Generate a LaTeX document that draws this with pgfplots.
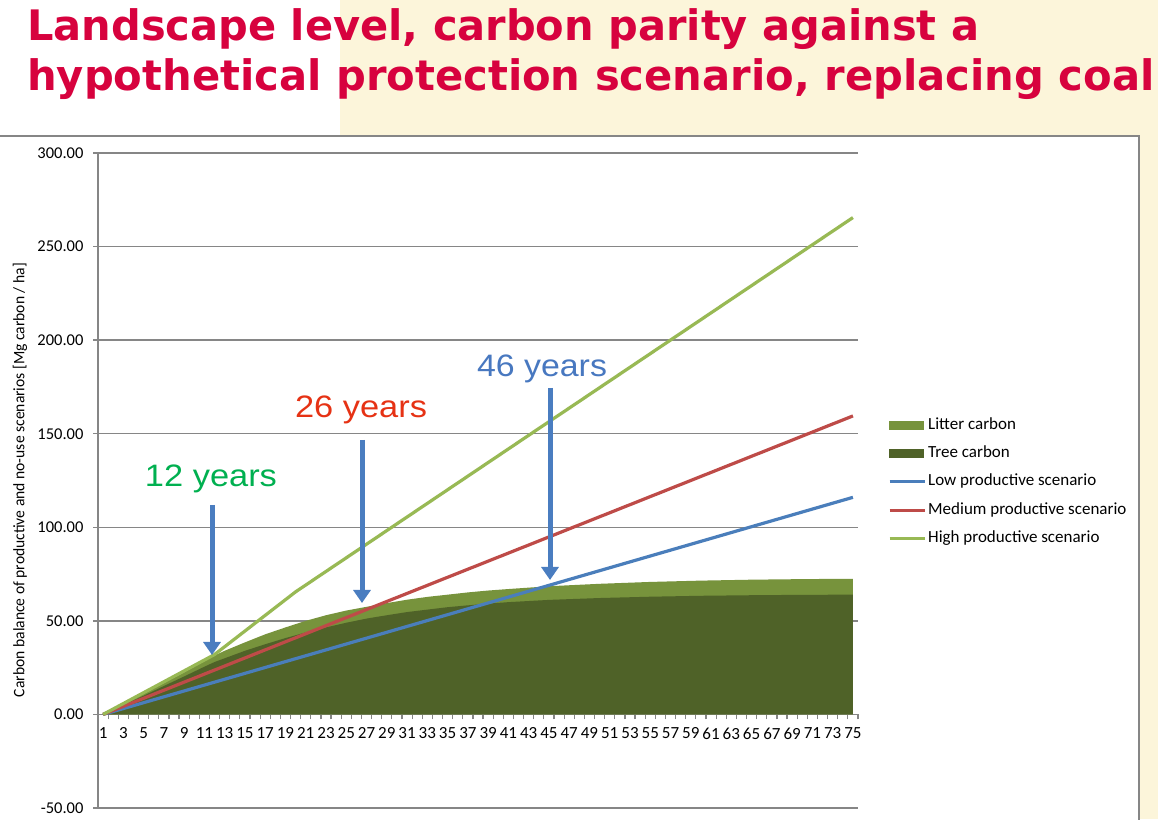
\documentclass[border=0pt]{standalone}
\usepackage{pgfplots}
\pgfplotsset{compat=1.18}
\usepackage{pgfplotstable}
\usepackage{fontspec}
\usetikzlibrary{arrows.meta}
\setmainfont{Carlito}
\newfontfamily\titlefont{DejaVu Sans}
\newfontfamily\arialfont{Liberation Sans}
\definecolor{titlered}{HTML}{D7023E}
\definecolor{bgyellow}{HTML}{FCF5DA}
\definecolor{gridgray}{HTML}{868686}
\definecolor{litter}{HTML}{77933C}
\definecolor{tree}{HTML}{4F6228}
\definecolor{lowc}{HTML}{4A7EBB}
\definecolor{medc}{HTML}{BE4B48}
\definecolor{highc}{HTML}{98B954}
\definecolor{arrowc}{HTML}{4A7DC0}
\definecolor{txtgreen}{HTML}{00B050}
\definecolor{txtred}{HTML}{E63214}
\definecolor{txtblue}{HTML}{4878C0}

\pgfplotstableread{
year tree litter
1 0 0
3 5 0.5
5 10 1
7 15.2 1.6
9 20.3 2.2
11 25.5 3
12 28 3.5
13 30 4
15 34 4.5
17 37.5 5.3
19 40.8 5.7
21 43.8 6.2
23 46.5 6.5
25 49 6.5
27 51.2 6.3
29 53 6.5
31 54.7 6.6
33 56 6.8
35 57.3 6.7
37 58.3 6.9
39 59.2 7
41 60 7
45 61.2 7.3
50 62.2 7.6
55 62.9 7.9
60 63.4 8.1
65 63.7 8.3
70 63.9 8.4
75 64 8.5
}\carbontable

\begin{document}
\begin{tikzpicture}[x=1pt,y=1pt]
\useasboundingbox (0,0) rectangle (1158,819);
% backgrounds
\fill[white] (0,0) rectangle (1158,819);
\fill[bgyellow] (340,683) rectangle (1158,819);
\fill[bgyellow] (1139,0) rectangle (1158,819);
\draw[gridgray, line width=2pt] (-5,-5) rectangle (1139,683);
% title
\node[anchor=base west, inner sep=0pt, text=titlered] at (27,778)
  {\resizebox{952pt}{\height}{\titlefont\bfseries\fontsize{42}{42}\selectfont Landscape level, carbon parity against a}};
\node[anchor=base west, inner sep=0pt, text=titlered] at (27,728)
  {\resizebox{1127pt}{\height}{\titlefont\bfseries\fontsize{42}{42}\selectfont hypothetical protection scenario, replacing coal}};

\begin{axis}[
  at={(98pt,11pt)}, anchor=south west,
  scale only axis, width=760pt, height=655pt,
  xmin=0.5, xmax=75.5, ymin=-50, ymax=300,
  axis x line=middle, axis y line=left,
  hide obscured x ticks=false, hide obscured y ticks=false,
  axis line style={-, gridgray, line width=1.5pt},
  tick align=outside,
  xtick={1,3,...,75},
  minor xtick={0.5,1.5,...,75.5},
  major x tick style={draw=none},
  minor x tick style={gridgray, line width=1.2pt},
  minor tick length=5pt,
  ytick={-50,0,50,...,300},
  major y tick style={gridgray, line width=1.5pt},
  major tick length=5pt,
  ymajorgrids,
  major grid style={gridgray, line width=1.5pt},
  yticklabel={\pgfmathprintnumber[fixed,fixed zerofill,precision=2]{\tick}},
  /pgf/number format/assume math mode=true,
  yticklabel style={font=\fontsize{16.5}{16.5}\selectfont, text=black, xshift=-6pt},
  xticklabel style={font=\fontsize{17}{17}\selectfont, text=black, yshift=-5pt},
  legend style={at={(1.0355,0.603)}, anchor=north west, draw=none, fill=none,
    font=\fontsize{17}{17}\selectfont, row sep=8.3pt,
    nodes={text height=12pt, text depth=4pt, inner sep=2pt}},
  legend cell align=left,
]
\addlegendimage{legend image code/.code={\fill[litter] (0pt,-4pt) rectangle (34pt,4pt);}}
\addlegendimage{legend image code/.code={\fill[tree] (0pt,-4pt) rectangle (34pt,4pt);}}
\addlegendimage{legend image code/.code={\draw[lowc, line width=3pt] (0pt,0pt) -- (35pt,0pt);}}
\addlegendimage{legend image code/.code={\draw[medc, line width=3pt] (0pt,0pt) -- (35pt,0pt);}}
\addlegendimage{legend image code/.code={\draw[highc, line width=3pt] (0pt,0pt) -- (35pt,0pt);}}
\legend{Litter carbon, Tree carbon, Low productive scenario, Medium productive scenario, High productive scenario}

% stacked areas: tree + litter (top), then tree
\addplot[forget plot, fill=litter, draw=none] table[x=year, y expr=\thisrow{tree}+\thisrow{litter}] {\carbontable} \closedcycle;
\addplot[forget plot, fill=tree, draw=none] table[x=year, y=tree] {\carbontable} \closedcycle;

\addplot[forget plot, lowc, line width=3.2pt] coordinates {(1,0) (75,116)};
\addplot[forget plot, medc, line width=3.2pt] coordinates {(1,0) (75,159.5)};
\addplot[forget plot, highc, line width=3.2pt] coordinates {(1,0) (12,32) (20,65.5) (75,265.5)};
\end{axis}

% y axis label
\node[rotate=90, inner sep=0pt] at (20,339)
  {\resizebox{434pt}{\height}{\fontsize{16}{16}\selectfont Carbon balance of productive and no-use scenarios [Mg carbon / ha]}};

% annotations
\draw[arrowc, line width=5pt, -{Triangle[width=17pt,length=13pt]}] (212,314) -- (212,164);
\draw[arrowc, line width=5pt, -{Triangle[width=17pt,length=13pt]}] (362,379) -- (362,216);
\draw[arrowc, line width=5pt, -{Triangle[width=17pt,length=13pt]}] (550,431) -- (550,239);

\node[anchor=base, inner sep=0pt, text=txtgreen] at (211,332)
  {\resizebox{132pt}{\height}{\arialfont\fontsize{31}{31}\selectfont 12 years}};
\node[anchor=base, inner sep=0pt, text=txtred] at (361,401)
  {\resizebox{132pt}{\height}{\arialfont\fontsize{31}{31}\selectfont 26 years}};
\node[anchor=base, inner sep=0pt, text=txtblue] at (542,442)
  {\resizebox{130pt}{\height}{\arialfont\fontsize{31}{31}\selectfont 46 years}};
\end{tikzpicture}
\end{document}
